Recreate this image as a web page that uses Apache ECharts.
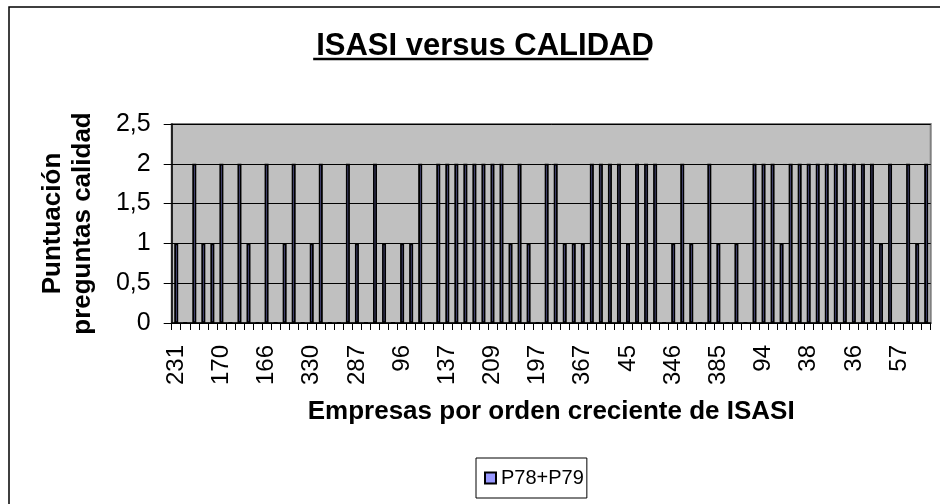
<!DOCTYPE html>
<html>
<head>
<meta charset="utf-8">
<script src="https://cdn.jsdelivr.net/npm/echarts@6/dist/echarts.min.js"></script>
<style>
html,body{margin:0;padding:0;background:#fff;}
#chart{width:940px;height:504px;}
</style>
</head>
<body>
<div id="chart"></div>
<script>
// Category labels (only every 5th company label is legible in the reference)
const categories = [
 '231','','','','','170','','','','','166','','','','','330','','','','','287','','','','',
 '96','','','','','137','','','','','209','','','','','197','','','','','367','','','','',
 '45','','','','','346','','','','','385','','','','','94','','','','','38','','','','',
 '36','','','','','57','','',''
];
const seriesName = 'P78+P79';
const values = [
 1,0,2,1,1,2,0,2,1,0,2,0,1,2,0,1,2,0,0,2,
 1,0,2,1,0,1,1,2,0,2,2,2,2,2,2,2,2,1,2,1,
 0,2,2,1,1,1,2,2,2,2,1,2,2,2,0,1,2,1,0,2,
 1,0,1,0,2,2,2,1,2,2,2,2,2,2,2,2,2,2,1,2,
 0,2,1,2
];
const yTicks = [0, 0.5, 1, 1.5, 2, 2.5];
const titleText = 'ISASI versus CALIDAD';
const xTitle = 'Empresas por orden creciente de ISASI';
const yTitle = 'Puntuación\npreguntas calidad';

const FONT = '"Liberation Sans", Arial, Helvetica, sans-serif';
const titleSize = 31;
const ctx = document.createElement('canvas').getContext('2d');
ctx.font = 'bold ' + titleSize + 'px ' + FONT;
ctx.textAlign = 'center';
const m = ctx.measureText(titleText);
const titleCx = 480;
const ulLeft = titleCx - (m.actualBoundingBoxLeft || m.width / 2);
const ulRight = titleCx + (m.actualBoundingBoxRight || m.width / 2);

const chart = echarts.init(document.getElementById('chart'), null, {renderer: 'canvas'});
chart.setOption({
  backgroundColor: '#ffffff',
  animation: false,
  textStyle: {fontFamily: FONT, color: '#000'},
  title: {
    text: titleText,
    left: titleCx, top: 26, textAlign: 'center',
    textStyle: {fontSize: titleSize, fontWeight: 'bold', color: '#000', fontFamily: FONT}
  },
  graphic: [
    {type: 'rect', shape: {x: 9, y: 7, width: 1000, height: 1000}, style: {fill: 'none', stroke: '#000', lineWidth: 1.5}, silent: true},
    {type: 'line', shape: {x1: ulLeft, y1: 59, x2: ulRight, y2: 59}, style: {stroke: '#000', lineWidth: 2.5}, silent: true}
  ],
  legend: {
    data: [seriesName],
    left: 476, top: 458,
    orient: 'horizontal',
    padding: [9, 3, 9, 8],
    borderColor: '#000', borderWidth: 1,
    backgroundColor: '#fff',
    itemWidth: 11, itemHeight: 11,
    icon: 'rect',
    textStyle: {fontSize: 20, lineHeight: 22, color: '#000', fontFamily: FONT}
  },
  grid: {
    left: 171.7, right: 9.3, top: 124, bottom: 181,
    show: true, backgroundColor: '#C0C0C0', borderColor: '#808080', borderWidth: 2,
    containLabel: false
  },
  xAxis: {
    type: 'category',
    data: categories,
    name: xTitle,
    nameLocation: 'middle',
    nameGap: 76,
    nameMoveOverlap: false,
    nameTextStyle: {fontSize: 26, fontWeight: 'bold', color: '#000', fontFamily: FONT, verticalAlign: 'top'},
    axisLine: {show: true, lineStyle: {color: '#000', width: 1.5}},
    axisTick: {show: true, interval: 0, length: 7, lineStyle: {color: '#000', width: 1}},
    axisLabel: {interval: 4, rotate: 90, margin: 22, fontSize: 24, color: '#000', fontFamily: FONT},
    splitLine: {show: false}
  },
  yAxis: {
    type: 'value',
    min: 0, max: 2.5, interval: 0.5,
    name: yTitle,
    nameLocation: 'middle',
    nameRotate: 90,
    nameGap: 74,
    nameMoveOverlap: false,
    nameTextStyle: {fontSize: 26, fontWeight: 'bold', lineHeight: 30, color: '#000', fontFamily: FONT, align: 'center'},
    axisLine: {show: true, lineStyle: {color: '#000', width: 1.5}},
    axisTick: {show: true, length: 8, lineStyle: {color: '#000', width: 1}},
    axisLabel: {
      margin: 21, fontSize: 25, color: '#000', fontFamily: FONT,
      formatter: v => yTicks.indexOf(v) >= 0 ? String(v).replace('.', ',') : ''
    },
    splitLine: {show: true, lineStyle: {color: '#000', width: 1}}
  },
  series: [{
    name: seriesName,
    type: 'bar',
    data: values,
    barWidth: 4,
    itemStyle: {color: '#9999FF', borderColor: '#000', borderWidth: 1.8}
  }]
});
</script>
</body>
</html>
